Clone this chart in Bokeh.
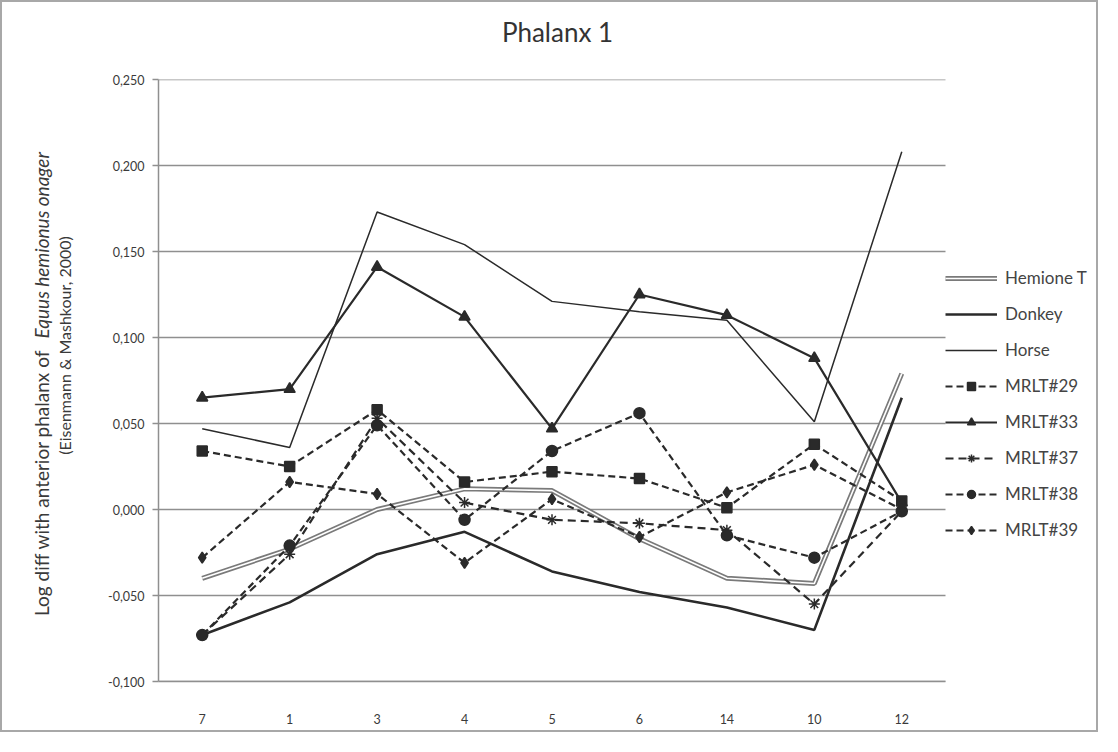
from math import pi
from bokeh.plotting import figure
from bokeh.models import (Range1d, FixedTicker, CustomJSTickFormatter,
                          Legend, LegendItem, Label)
from bokeh.embed import file_html
from bokeh.resources import INLINE

# ---------------- data ----------------
categories = ["7", "1", "3", "4", "5", "6", "14", "10", "12"]
hemione_t = [-0.040, -0.023, 0.000, 0.012, 0.011, -0.017, -0.040, -0.043, 0.079]
donkey    = [-0.073, -0.054, -0.026, -0.013, -0.036, -0.048, -0.057, -0.070, 0.065]
horse     = [0.047, 0.036, 0.173, 0.154, 0.121, 0.115, 0.110, 0.051, 0.208]
mrlt29    = [0.034, 0.025, 0.058, 0.016, 0.022, 0.018, 0.001, 0.038, 0.005]
mrlt33    = [0.065, 0.070, 0.141, 0.112, 0.047, 0.125, 0.113, 0.088, 0.004]
mrlt37    = [-0.073, -0.026, 0.053, 0.004, -0.006, -0.008, -0.012, -0.055, -0.001]
mrlt38    = [-0.073, -0.021, 0.049, -0.006, 0.034, 0.056, -0.015, -0.028, -0.001]
mrlt39    = [-0.028, 0.016, 0.009, -0.031, 0.006, -0.016, 0.010, 0.026, 0.000]
y_ticks   = [-0.10, -0.05, 0.00, 0.05, 0.10, 0.15, 0.20, 0.25]

title_text = "Phalanx 1"
ylabel_1a = "Log diff with anterior phalanx of"
ylabel_1b = "Equus hemionus onager"
ylabel_2 = "(Eisenmann & Mashkour, 2000)"

FONT = "Lato"
DARK = "#2a2a2a"
GRID = "#8f8f8f"

# ---------------- layout ----------------
W, H = 1098, 732
ML, MR, MT, MB = 156, 5, 77, 53
DATA_W = 787                      # pixel width of the category area
FW = W - ML - MR                  # frame also hosts the legend on its right
n = len(categories)
xs = [i + 0.5 for i in range(n)]  # category centres on the axis
x_end = n * FW / DATA_W

p = figure(width=W, height=H,
           x_range=Range1d(0, x_end),
           y_range=Range1d(y_ticks[0], y_ticks[-1]),
           output_backend="svg", toolbar_location=None,
           min_border_left=ML, min_border_right=MR,
           min_border_top=MT, min_border_bottom=MB)
p.styles = {"border": "2px solid #a8a8a8"}
p.background_fill_color = "white"
p.border_fill_color = "white"
p.outline_line_color = None
p.title.visible = False

p.add_layout(Label(x=553, y=27, x_units="canvas", y_units="canvas",
                   text=title_text, text_align="center", text_baseline="middle",
                   text_font=FONT, text_font_size="26px", text_color="#333333"),
             "above")

p.xgrid.visible = False
p.ygrid.visible = False
# horizontal gridlines limited to the category area
p.segment(x0=[0] * len(y_ticks), x1=[n] * len(y_ticks), y0=y_ticks, y1=y_ticks,
          line_color=GRID, line_width=1.5)

p.yaxis.ticker = FixedTicker(ticks=y_ticks)
p.yaxis.formatter = CustomJSTickFormatter(
    code="return tick.toFixed(3).replace('.', ',');")
p.yaxis.axis_line_color = GRID
p.yaxis.axis_line_width = 1.5
p.yaxis.major_tick_line_color = GRID
p.yaxis.major_tick_line_width = 1.5
p.yaxis.major_tick_out = 6
p.yaxis.major_tick_in = 0
p.yaxis.minor_tick_line_color = None
p.yaxis.major_label_standoff = 8
p.yaxis.major_label_text_font = FONT
p.yaxis.major_label_text_font_size = "12.5px"
p.yaxis.major_label_text_color = "#3a3a3a"

p.xaxis.ticker = FixedTicker(ticks=xs)
p.xaxis.major_label_overrides = {x: c for x, c in zip(xs, categories)}
p.xaxis.bounds = (0, n)
p.xaxis.axis_line_color = GRID
p.xaxis.axis_line_width = 1.5
p.xaxis.major_tick_line_color = None
p.xaxis.minor_tick_line_color = None
p.xaxis.major_label_standoff = 26
p.xaxis.major_label_text_font = FONT
p.xaxis.major_label_text_font_size = "12.5px"
p.xaxis.major_label_text_color = "#3a3a3a"

# ---------------- series ----------------
items = []

h_out = p.line(xs, hemione_t, line_color="#7a7a7a", line_width=5)
h_in = p.line(xs, hemione_t, line_color="white", line_width=1.6)
items.append(LegendItem(label="Hemione T", renderers=[h_out, h_in]))

d = p.line(xs, donkey, line_color=DARK, line_width=2.6)
items.append(LegendItem(label="Donkey", renderers=[d]))

hr = p.line(xs, horse, line_color=DARK, line_width=1.5)
items.append(LegendItem(label="Horse", renderers=[hr]))

def series(vals, marker, size, dash, label):
    l = p.line(xs, vals, line_color=DARK, line_width=2.2, line_dash=dash)
    s = p.scatter(xs, vals, marker=marker, size=size,
                  fill_color=DARK, line_color=DARK, line_width=1.5)
    items.append(LegendItem(label=label, renderers=[l, s]))

series(mrlt29, "square", 10, "7 4", "MRLT#29")
series(mrlt33, "triangle", 11, "solid", "MRLT#33")
series(mrlt37, "asterisk", 11, "8 5", "MRLT#37")
series(mrlt38, "circle", 11, "7 4", "MRLT#38")
series(mrlt39, "diamond", 11, "7 4", "MRLT#39")

legend = Legend(items=items, location=(DATA_W, 141), orientation="vertical",
                border_line_color=None, background_fill_alpha=0,
                padding=0, margin=0, spacing=15, label_height=20,
                glyph_height=20, glyph_width=52, label_standoff=8,
                label_text_font=FONT, label_text_font_size="17px",
                label_text_color="#444444")
p.add_layout(legend, "center")

# ---------------- y axis label (two lines, partly italic) ----------------
common = dict(x_units="canvas", y_units="canvas", angle=pi / 2,
              text_baseline="middle", text_font=FONT, text_color="#3a3a3a")
p.add_layout(Label(x=37, y=345, text=ylabel_1a, text_align="right",
                   text_font_size="19px", **common), "left")
p.add_layout(Label(x=37, y=334, text=ylabel_1b, text_align="left",
                   text_font_size="19px", text_font_style="italic", **common), "left")
p.add_layout(Label(x=60, y=341, text=ylabel_2, text_align="center",
                   text_font_size="16px", **common), "left")

open("out.html", "w").write(file_html(p, INLINE))
